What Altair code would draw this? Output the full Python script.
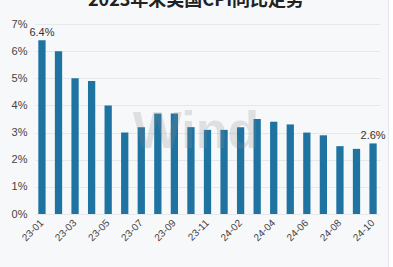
import altair as alt
import pandas as pd

months = ["23-01", "23-02", "23-03", "23-04", "23-05", "23-06", "23-07", "23-08",
          "23-09", "23-10", "23-11", "24-01", "24-02", "24-03", "24-04", "24-05",
          "24-06", "24-07", "24-08", "24-09", "24-10"]
values = [6.4, 6.0, 5.0, 4.9, 4.0, 3.0, 3.2, 3.7, 3.7, 3.2, 3.1, 3.1, 3.2, 3.5,
          3.4, 3.3, 3.0, 2.9, 2.5, 2.4, 2.6]
label_months = ["23-01", "23-03", "23-05", "23-07", "23-09", "23-11", "24-02",
                "24-04", "24-06", "24-08", "24-10"]
y_ticks = [0, 1, 2, 3, 4, 5, 6, 7]
title_text = "2023年来美国CPI同比走势"

df = pd.DataFrame({"month": months, "value": values})
df["label"] = ["6.4%" if i == 0 else ("2.6%" if i == len(values) - 1 else "") for i in range(len(values))]

x_axis = alt.Axis(values=label_months, labelAngle=-45, labelAlign="right",
                  labelBaseline="middle", labelFontSize=10, labelColor="#444",
                  labelFont="Liberation Sans", ticks=False, domain=False,
                  labelPadding=7, labelOverlap=False, grid=False)
y_axis = alt.Axis(values=y_ticks, labelExpr="datum.value + '%'",
                  labelFontSize=11, labelColor="#444", labelFont="Liberation Sans",
                  ticks=False, domain=False, gridColor="#e6e8ec",
                  gridWidth=1, labelPadding=8, labelOverlap=False)
x_scale = alt.Scale(paddingInner=0.56, paddingOuter=0.2)
y_scale = alt.Scale(domain=[0, 7], nice=False, zero=True)

x_enc = alt.X("month:N", sort=months, title=None, scale=x_scale, axis=x_axis)
y_enc = alt.Y("value:Q", title=None, scale=y_scale, axis=y_axis)

bars = alt.Chart(df).mark_bar(color="#1f73a1").encode(x=x_enc, y=y_enc)

labels = alt.Chart(df).mark_text(dy=-7, fontSize=11, color="#333",
                                 font="Liberation Sans").encode(
    x=x_enc, y=y_enc, text="label:N")

wm = alt.Chart(pd.DataFrame({"t": ["Wind"]})).mark_text(
    fontSize=52, fontWeight="bold", color="#8a8a8a", opacity=0.22,
    font="Liberation Sans", align="center", baseline="middle").encode(
    x=alt.value(161), y=alt.value(108), text="t:N")

ttl = alt.Chart(pd.DataFrame({"t": [title_text]})).mark_text(
    fontSize=18, fontWeight="bold", color="#222", font="Noto Sans CJK SC",
    align="center", baseline="alphabetic").encode(
    x=alt.value(161), y=alt.value(-18), text="t:N")

edge = alt.Chart(pd.DataFrame({"a": [1]})).mark_rect(color="#ffffff").encode(
    x=alt.value(354), x2=alt.value(370), y=alt.value(-40), y2=alt.value(260))
edge_line = alt.Chart(pd.DataFrame({"a": [1]})).mark_rule(color="#e2e4e8").encode(
    x=alt.value(353.5), y=alt.value(-40), y2=alt.value(260))

chart = alt.layer(bars, labels, wm, ttl, edge, edge_line).properties(
    width=345, height=190,
    padding={"left": 35, "top": 24, "right": 13, "bottom": 53},
    autosize=alt.AutoSizeParams(type="none"),
    background="#f7f8fa",
).configure_view(stroke=None)

chart.save("out.html", embed_options={"renderer": "svg", "actions": False})
